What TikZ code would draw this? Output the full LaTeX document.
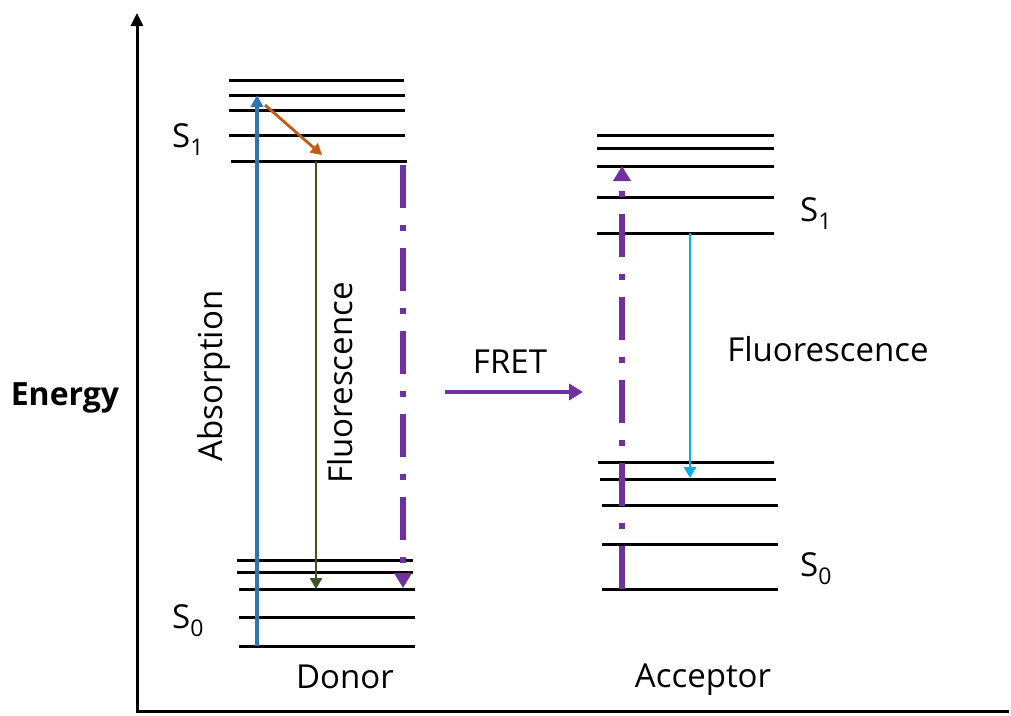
\documentclass[tikz,border=0pt]{standalone}
\usepackage{fontspec}
\setmainfont{Open Sans}
\usetikzlibrary{arrows.meta}
\definecolor{absblue}{HTML}{2E75B6}
\definecolor{relaxorange}{HTML}{C55A11}
\definecolor{fluogreen}{HTML}{385723}
\definecolor{fretpurple}{HTML}{7030A0}
\definecolor{fluocyan}{HTML}{00B0F0}
\newcommand{\lvl}[1]{S\raisebox{-8pt}{\fontsize{23}{23}\selectfont #1}}
\begin{document}
\begin{tikzpicture}[x=1pt,y=-1pt,
  level/.style={line width=3pt,black},
  axis/.style={line width=3pt,black},
  lbl/.style={font=\fontsize{33}{38}\selectfont, inner sep=0pt},
  purpledash/.style={line width=6.5pt,fretpurple,dash pattern=on 43pt off 17pt on 6pt off 17pt,
     -{Triangle[length=15pt,width=17pt]}},
  thinarrow/.style={-{Triangle[length=11pt,width=12pt]}}]
\useasboundingbox (0,0) rectangle (1011,715);
% axes
\coordinate (ytop) at (137,13);
\coordinate (corner) at (137,711.5);
\coordinate (xend) at (1009,711.5);
\draw[axis,-{Triangle[length=13pt,width=12pt]}] (xend) -- (corner) -- (ytop);
% donor levels
\foreach \y/\a/\b in {80/229/404, 95/229/405, 110/229/405, 135/229/405, 161/231/407,
                      560/237/413, 572/237/413, 589/239/415, 617/239/415, 646/239/415}
  \draw[level] (\a,\y) -- (\b,\y);
% acceptor levels
\foreach \y/\a/\b in {135/597/774, 148/597/774, 166/597/774, 197/597/774, 233/597/774,
                      462/598/774, 479/600/776, 505/602/778, 544/602/778, 589/602/778}
  \draw[level] (\a,\y) -- (\b,\y);
% arrow end points
\coordinate (absS) at (257,646);
\coordinate (absE) at (257,95);
\coordinate (relS) at (265,105);
\coordinate (relE) at (322,155);
\coordinate (dflS) at (316,161);
\coordinate (dflE) at (316,589);
\coordinate (dpS) at (403,165);
\coordinate (dpE) at (403,588);
\coordinate (apS) at (622,589);
\coordinate (apE) at (622,166);
\coordinate (aflS) at (690,233);
\coordinate (aflE) at (690,478);
\coordinate (fretS) at (445,392);
\coordinate (fretE) at (583,392);
% arrows
\draw[absblue,line width=3.2pt,-{Triangle[length=12pt,width=12pt]}] (absS) -- (absE);
\draw[relaxorange,line width=2.8pt,thinarrow] (relS) -- (relE);
\draw[fluogreen,line width=2.5pt,thinarrow] (dflS) -- (dflE);
\draw[fluocyan,line width=2.5pt,thinarrow] (aflS) -- (aflE);
\draw[purpledash] (dpS) -- (dpE);
\draw[purpledash] (apS) -- (apE);
\draw[fretpurple,line width=4pt,-{Triangle[length=14pt,width=16pt]}] (fretS) -- (fretE);
% labels
\node[lbl,anchor=base,font=\fontsize{32}{37}\selectfont\bfseries] (energy) at (65,405) {Energy};
\node[lbl,anchor=base,rotate=90] (absorption) at (222,376) {Absorption};
\node[lbl,anchor=base,rotate=90] (dfluo) at (352,383) {Fluorescence};
\node[lbl,anchor=base] (fret) at (510,373) {FRET};
\node[lbl,anchor=base] (afluo) at (828,361) {Fluorescence};
\node[lbl,anchor=base] (donor) at (345,688) {Donor};
\node[lbl,anchor=base] (acceptor) at (703,687) {Acceptor};
\node[lbl,anchor=base west] (dS1) at (172,147) {\lvl{1}};
\node[lbl,anchor=base west] (dS0) at (172,628) {\lvl{0}};
\node[lbl,anchor=base west] (aS1) at (800,221) {\lvl{1}};
\node[lbl,anchor=base west] (aS0) at (800,576) {\lvl{0}};
\end{tikzpicture}
\end{document}
